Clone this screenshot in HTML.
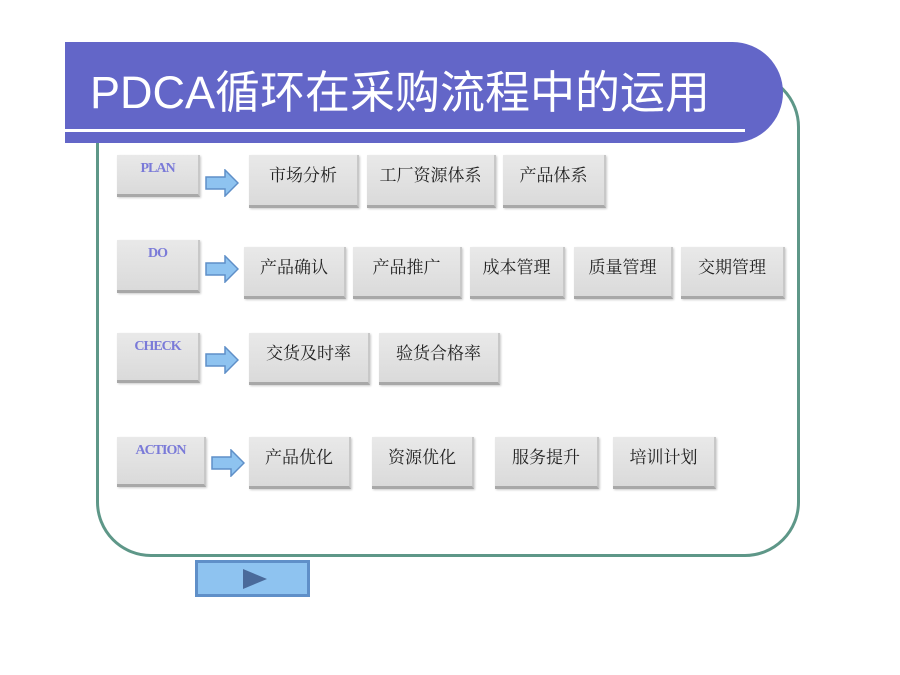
<!DOCTYPE html>
<html><head><meta charset="utf-8"><style>
body{margin:0;background:#fff;width:900px;height:675px;position:relative;overflow:hidden;font-family:"Liberation Serif","Noto Serif CJK SC",serif}
.frame{position:absolute;left:96px;top:72px;width:698px;height:479px;border:3px solid #5e9788;border-radius:55px}
.banner{position:absolute;left:65px;top:42px;width:718px;height:101px;background:#6366c8;border-radius:0 55px 55px 0}
.title{position:absolute;left:90px;top:56px;color:#fff;font:45px "Liberation Sans","Noto Sans CJK SC",sans-serif;white-space:nowrap}
.line{position:absolute;left:65px;top:129px;width:680px;height:3px;background:#fff}
.b{position:absolute;background:linear-gradient(#e9e9e9,#dadada);border-right:2px solid #c8c8c8;border-bottom:3px solid #a8a8a8;box-shadow:1px 1px 2px #ccc;box-sizing:border-box;text-align:center;font-size:17px;color:#222;padding-top:6px}
.l{font-family:"Liberation Serif",serif;font-weight:bold;font-size:14px;color:#7a7ad8;padding-top:6px;letter-spacing:-1px}
.arr{position:absolute;width:34px;height:28px}
.btn{position:absolute;left:195px;top:560px;width:115px;height:37px;background:#8ec3f0;border:3px solid #5f8fc8;box-sizing:border-box}
</style></head><body>
<div class="frame"></div>
<div class="banner"></div>
<div class="title">PDCA循环在采购流程中的运用</div>
<div class="line"></div>

<div class="b l" style="left:117px;top:155px;width:83px;height:42px">PLAN</div>
<div class="b" style="left:249px;top:155px;width:110px;height:53px">市场分析</div>
<div class="b" style="left:367px;top:155px;width:129px;height:53px">工厂资源体系</div>
<div class="b" style="left:503px;top:155px;width:103px;height:53px">产品体系</div>

<div class="b l" style="left:117px;top:240px;width:83px;height:53px">DO</div>
<div class="b" style="left:244px;top:247px;width:102px;height:52px">产品确认</div>
<div class="b" style="left:353px;top:247px;width:109px;height:52px">产品推广</div>
<div class="b" style="left:470px;top:247px;width:95px;height:52px">成本管理</div>
<div class="b" style="left:574px;top:247px;width:99px;height:52px">质量管理</div>
<div class="b" style="left:681px;top:247px;width:104px;height:52px">交期管理</div>

<div class="b l" style="left:117px;top:333px;width:83px;height:50px">CHECK</div>
<div class="b" style="left:249px;top:333px;width:121px;height:52px">交货及时率</div>
<div class="b" style="left:379px;top:333px;width:121px;height:52px">验货合格率</div>

<div class="b l" style="left:117px;top:437px;width:89px;height:50px">ACTION</div>
<div class="b" style="left:249px;top:437px;width:102px;height:52px">产品优化</div>
<div class="b" style="left:372px;top:437px;width:102px;height:52px">资源优化</div>
<div class="b" style="left:495px;top:437px;width:104px;height:52px">服务提升</div>
<div class="b" style="left:613px;top:437px;width:103px;height:52px">培训计划</div>

<svg class="arr" style="left:205px;top:169px" viewBox="0 0 34 28"><path d="M1 8H20V1L33 14L20 27V20H1Z" fill="#8ec3f0" stroke="#5f8fc8" stroke-width="1.5"/></svg>
<svg class="arr" style="left:205px;top:255px" viewBox="0 0 34 28"><path d="M1 8H20V1L33 14L20 27V20H1Z" fill="#8ec3f0" stroke="#5f8fc8" stroke-width="1.5"/></svg>
<svg class="arr" style="left:205px;top:346px" viewBox="0 0 34 28"><path d="M1 8H20V1L33 14L20 27V20H1Z" fill="#8ec3f0" stroke="#5f8fc8" stroke-width="1.5"/></svg>
<svg class="arr" style="left:211px;top:449px" viewBox="0 0 34 28"><path d="M1 8H20V1L33 14L20 27V20H1Z" fill="#8ec3f0" stroke="#5f8fc8" stroke-width="1.5"/></svg>

<div class="btn"><svg style="position:absolute;left:45px;top:6px" width="24" height="20"><path d="M0 0L24 10L0 20Z" fill="#4a6a9a"/></svg></div>
</body></html>
